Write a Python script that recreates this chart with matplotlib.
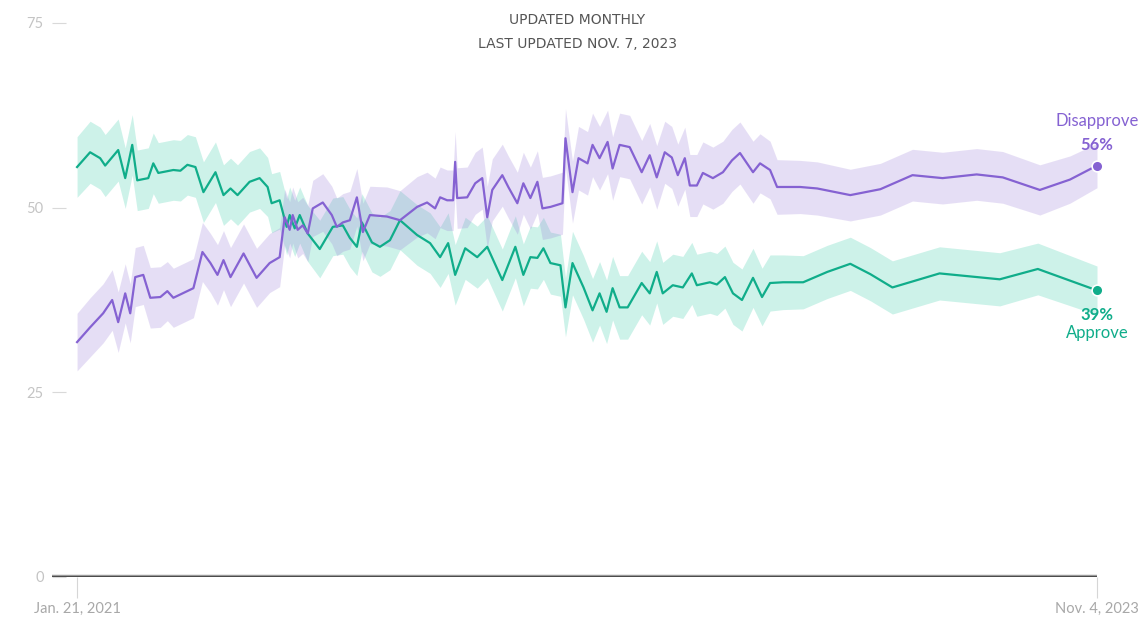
import numpy as np
import pandas as pd
import matplotlib
matplotlib.use('Agg')
import matplotlib.pyplot as plt

# days since Jan. 21, 2021 / share of respondents (%)
disapprove_days = [0, 13, 26, 35, 41, 48, 53, 58, 66, 73,
                   83, 90, 96, 116, 125, 133, 140, 146, 153, 166,
                   179, 192, 202, 207, 212, 215, 220, 225, 230, 235,
                   245, 254, 259, 265, 272, 279, 285, 292, 309, 322,
                   339, 349, 357, 362, 369, 375, 377, 379, 389, 397,
                   404, 409, 414, 424, 430, 439, 445, 452, 459, 464,
                   472, 484, 487, 494, 500, 509, 514, 521, 529, 534,
                   541, 551, 563, 571, 578, 586, 593, 599, 606, 611,
                   618, 624, 634, 644, 653, 661, 674, 681, 691, 698,
                   721, 738, 771, 801, 833, 863, 897, 923, 960, 990,
                   1017]
disapprove = [31.8, 33.8, 35.7, 37.5, 34.5, 38.4, 35.7, 40.6, 40.9, 37.8,
              37.9, 38.7, 37.8, 39.1, 44.0, 42.5, 40.9, 42.9, 40.6, 43.8,
              40.5, 42.5, 43.3, 48.7, 47.0, 49.0, 47.0, 47.6, 46.5, 49.9,
              50.7, 49.0, 47.4, 48.0, 48.3, 51.4, 46.7, 49.0, 48.8, 48.3,
              50.1, 50.7, 49.9, 51.4, 51.0, 51.0, 56.2, 51.3, 51.4, 53.3,
              54.0, 48.7, 52.4, 54.4, 52.8, 50.6, 53.3, 51.3, 53.5, 49.9,
              50.1, 50.6, 59.4, 52.1, 56.7, 56.0, 58.5, 56.7, 58.9, 55.3,
              58.5, 58.2, 54.8, 57.1, 54.1, 57.5, 56.8, 54.4, 56.7, 53.0,
              53.0, 54.7, 54.0, 54.8, 56.4, 57.4, 54.8, 56.0, 55.1, 52.8,
              52.8, 52.6, 51.7, 52.5, 54.4, 54.0, 54.5, 54.1, 52.4, 53.8,
              55.7]
disapprove_moe = [3.9, 4.0, 4.0, 4.1, 4.1, 4.0, 4.0, 4.0, 4.0, 4.1,
                  4.1, 4.0, 4.0, 4.0, 4.0, 4.0, 4.1, 4.0, 4.0, 4.0,
                  4.0, 4.0, 4.0, 3.8, 3.8, 3.8, 3.8, 3.8, 3.8, 3.8,
                  3.9, 3.9, 3.9, 3.9, 3.9, 3.9, 3.9, 3.9, 4.0, 4.0,
                  4.1, 4.1, 4.1, 4.1, 4.1, 4.1, 4.1, 4.1, 4.1, 4.2,
                  4.2, 4.2, 4.2, 4.2, 4.2, 4.2, 4.2, 4.2, 4.2, 4.2,
                  4.2, 4.2, 4.0, 4.2, 4.3, 4.3, 4.3, 4.3, 4.3, 4.3,
                  4.3, 4.3, 4.3, 4.3, 4.3, 4.2, 4.2, 4.2, 4.2, 4.2,
                  4.2, 4.2, 4.2, 4.2, 4.2, 4.2, 4.2, 4.0, 3.9, 3.7,
                  3.6, 3.6, 3.5, 3.5, 3.5, 3.5, 3.5, 3.5, 3.4, 3.2,
                  3.0]

approve_days = [0, 13, 23, 28, 41, 48, 55, 60, 71, 76,
                81, 96, 103, 110, 118, 126, 138, 146, 153, 160,
                172, 182, 190, 194, 202, 209, 212, 217, 222, 230,
                242, 255, 265, 272, 279, 284, 294, 302, 312, 322,
                339, 352, 362, 370, 377, 387, 399, 409, 424, 437,
                445, 452, 459, 465, 472, 482, 487, 494, 505, 514,
                521, 528, 534, 541, 549, 563, 571, 578, 584, 594,
                604, 613, 618, 631, 638, 646, 654, 663, 674, 683,
                691, 704, 724, 748, 771, 791, 813, 860, 920, 958,
                1017]
approve = [55.5, 57.5, 56.7, 55.7, 57.8, 54.0, 58.5, 53.7, 54.0, 56.0,
           54.7, 55.1, 55.0, 55.8, 55.5, 52.1, 54.8, 51.7, 52.6, 51.7,
           53.5, 54.0, 52.8, 50.6, 51.0, 47.4, 49.0, 47.2, 49.0, 46.5,
           44.4, 47.4, 47.6, 45.9, 44.7, 48.0, 45.3, 44.7, 45.6, 48.3,
           46.3, 45.2, 43.3, 45.2, 40.9, 44.5, 43.3, 44.7, 40.2, 44.7,
           40.9, 43.3, 43.2, 44.5, 42.5, 42.2, 36.5, 42.5, 39.2, 36.1,
           38.4, 35.9, 39.1, 36.5, 36.5, 39.8, 38.4, 41.3, 38.4, 39.5,
           39.2, 41.1, 39.5, 39.9, 39.6, 40.6, 38.4, 37.5, 40.5, 37.9,
           39.8, 39.9, 39.9, 41.3, 42.4, 41.0, 39.2, 41.1, 40.3, 41.7,
           38.8]
approve_moe = [4.1, 4.2, 4.2, 4.2, 4.2, 4.1, 4.1, 4.1, 4.1, 4.1,
               4.1, 4.1, 4.1, 4.1, 4.1, 4.1, 4.1, 4.1, 4.1, 4.1,
               4.1, 4.1, 4.0, 4.0, 3.9, 3.8, 3.8, 3.8, 3.8, 3.8,
               3.9, 3.9, 3.9, 3.9, 3.9, 3.9, 4.0, 4.0, 4.0, 4.0,
               4.1, 4.1, 4.1, 4.1, 4.1, 4.2, 4.2, 4.2, 4.2, 4.2,
               4.2, 4.2, 4.2, 4.2, 4.2, 4.2, 4.0, 4.3, 4.3, 4.3,
               4.3, 4.3, 4.3, 4.3, 4.3, 4.3, 4.3, 4.2, 4.2, 4.2,
               4.2, 4.2, 4.2, 4.2, 4.2, 4.2, 4.2, 4.2, 4.0, 3.9,
               3.8, 3.7, 3.6, 3.6, 3.6, 3.6, 3.6, 3.6, 3.6, 3.5,
               3.3]

start = pd.Timestamp('2021-01-21')
end = pd.Timestamp('2023-11-04')
y_ticks = [0, 25, 50, 75]
x_tick_labels = ['Jan. 21, 2021', 'Nov. 4, 2023']
header_lines = ['UPDATED MONTHLY', 'LAST UPDATED NOV. 7, 2023']

purple = '#8562d2'
purple_band = '#9b7fd9'
green = '#10ad8a'
green_band = '#27c9a2'

W, H = 1142, 617
fig = plt.figure(figsize=(W / 100, H / 100), dpi=100)
ax = fig.add_axes([52 / W, 40 / H, (1097 - 52) / W, (577 - 23) / H])

d_x = start + pd.to_timedelta(disapprove_days, unit='D')
a_x = start + pd.to_timedelta(approve_days, unit='D')
d_y = np.array(disapprove)
a_y = np.array(approve)
d_m = np.array(disapprove_moe)
a_m = np.array(approve_moe)

ax.fill_between(a_x, a_y - a_m, a_y + a_m, color=green_band, alpha=0.23, lw=0)
ax.fill_between(d_x, d_y - d_m, d_y + d_m, color=purple_band, alpha=0.25, lw=0)
ax.plot(a_x, a_y, color=green, lw=1.6, solid_joinstyle='round', zorder=3)
ax.plot(d_x, d_y, color=purple, lw=1.6, solid_joinstyle='round', zorder=3)

ax.scatter([d_x[-1]], [d_y[-1]], s=60, color=purple, edgecolor='white',
           linewidth=1.2, zorder=5, clip_on=False)
ax.scatter([a_x[-1]], [a_y[-1]], s=60, color=green, edgecolor='white',
           linewidth=1.2, zorder=5, clip_on=False)

lab_font = ['Lato', 'DejaVu Sans']
ax.annotate(f'{round(d_y[-1])}%', (d_x[-1], d_y[-1]), xytext=(0, 14.5),
            textcoords='offset points', ha='center', va='center',
            color=purple, fontsize=12, family=lab_font, fontweight='bold')
ax.annotate('Disapprove', (d_x[-1], d_y[-1]), xytext=(0, 32),
            textcoords='offset points', ha='center', va='center',
            color=purple, fontsize=12, family=lab_font)
ax.annotate(f'{round(a_y[-1])}%', (a_x[-1], a_y[-1]), xytext=(0, -17.5),
            textcoords='offset points', ha='center', va='center',
            color=green, fontsize=12, family=lab_font, fontweight='bold')
ax.annotate('Approve', (a_x[-1], a_y[-1]), xytext=(0, -30.5),
            textcoords='offset points', ha='center', va='center',
            color=green, fontsize=12, family=lab_font)

ax.set_ylim(0, 75)
ax.set_xlim(start - pd.Timedelta(days=25), end)
for s in ax.spines.values():
    s.set_visible(False)
ax.axhline(0, color='#9a9a9a', lw=3.2, zorder=4)
ax.axhline(0, color='#333333', lw=1.8, zorder=4)

ax.set_yticks(y_ticks)
ax.set_yticklabels([str(v) for v in y_ticks], family=lab_font)
ax.tick_params(axis='y', direction='in', length=10, width=0.8, color='#d9d9d9',
               labelcolor='#c4c4c4', labelsize=10.5, pad=6)
ax.set_xticks([start, end])
ax.set_xticklabels(x_tick_labels, family=lab_font)
ax.tick_params(axis='x', direction='out', length=15, width=0.8, color='#d6d6d6',
               labelcolor='#a8a8a8', labelsize=10.5, pad=3)

fig.text(577 / W, 1 - 20 / H, header_lines[0], ha='center', va='center',
         fontsize=10, color='#555555', family='DejaVu Sans')
fig.text(577 / W, 1 - 44 / H, header_lines[1], ha='center', va='center',
         fontsize=10, color='#555555', family='DejaVu Sans')

fig.savefig('out.png', dpi=100)
